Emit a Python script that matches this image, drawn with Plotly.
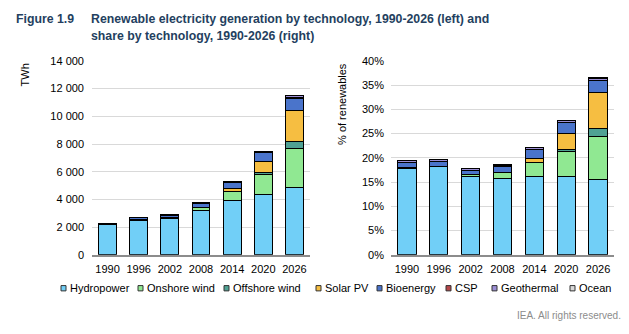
import plotly.graph_objects as go

years = ["1990", "1996", "2002", "2008", "2014", "2020", "2026"]
techs = ["Hydropower", "Onshore wind", "Offshore wind", "Solar PV", "Bioenergy", "CSP", "Geothermal", "Ocean"]
colors = ["#71CFF7", "#90E892", "#4FA193", "#F6BE41", "#4A74CB", "#B5474A", "#9C8FD6", "#D9D9D9"]

# Generation (TWh)
hydro_twh = [2150, 2500, 2620, 3180, 3890, 4330, 4880]
onshore_twh = [4, 10, 50, 220, 670, 1480, 2800]
offshore_twh = [0, 0, 1, 10, 25, 100, 470]
solar_twh = [0, 0, 2, 12, 190, 800, 2270]
bio_twh = [100, 150, 170, 280, 430, 640, 900]
csp_twh = [1, 1, 1, 2, 10, 15, 40]
geo_twh = [36, 42, 52, 65, 75, 90, 140]
ocean_twh = [1, 1, 1, 1, 1, 1, 2]

# Share (%)
hydro_pct = [17.9, 18.2, 16.2, 15.7, 16.1, 16.1, 15.5]
onshore_pct = [0.03, 0.07, 0.3, 1.2, 2.9, 5.3, 8.9]
offshore_pct = [0, 0, 0.01, 0.05, 0.1, 0.4, 1.6]
solar_pct = [0, 0, 0.01, 0.06, 0.8, 3.2, 7.4]
bio_pct = [1.1, 1.0, 0.9, 1.3, 1.8, 2.3, 2.5]
csp_pct = [0.01, 0.01, 0.01, 0.01, 0.04, 0.06, 0.13]
geo_pct = [0.35, 0.3, 0.3, 0.3, 0.35, 0.35, 0.45]
ocean_pct = [0.005, 0.005, 0.005, 0.005, 0.005, 0.005, 0.01]

left_ticks = [0, 2000, 4000, 6000, 8000, 10000, 12000, 14000]
left_ticktext = ["0", "2 000", "4 000", "6 000", "8 000", "10 000", "12 000", "14 000"]
right_ticks = [0, 5, 10, 15, 20, 25, 30, 35, 40]
right_ticktext = ["0%", "5%", "10%", "15%", "20%", "25%", "30%", "35%", "40%"]

twh_series = [hydro_twh, onshore_twh, offshore_twh, solar_twh, bio_twh, csp_twh, geo_twh, ocean_twh]
pct_series = [hydro_pct, onshore_pct, offshore_pct, solar_pct, bio_pct, csp_pct, geo_pct, ocean_pct]

FONT = "Liberation Sans, Arial, sans-serif"
fig = go.Figure()
for name, col, vals in zip(techs, colors, twh_series):
    fig.add_trace(go.Bar(x=years, y=vals, name=name, marker=dict(color=col, line=dict(color="#000", width=1)),
                         xaxis="x", yaxis="y", showlegend=False))
for name, col, vals in zip(techs, colors, pct_series):
    fig.add_trace(go.Bar(x=years, y=vals, name=name, marker=dict(color=col, line=dict(color="#000", width=1)),
                         xaxis="x2", yaxis="y2", showlegend=False))

W, H = 629, 334
def px(x): return x / W
def py(y): return 1 - y / H

axis_common = dict(tickfont=dict(family=FONT, size=11, color="#000"), ticks="", fixedrange=True)
fig.update_layout(
    width=W, height=H, barmode="stack", bargap=0.43,
    margin=dict(l=0, r=0, t=0, b=0),
    paper_bgcolor="white", plot_bgcolor="white",
    font=dict(family=FONT, size=11, color="#000"),
    xaxis=dict(domain=[px(92), px(310)], anchor="y", showline=True, linecolor="#8c8c8c", linewidth=2,
               showgrid=False, ticklabelstandoff=3, **axis_common),
    yaxis=dict(domain=[py(258), py(57)], anchor="x", range=[0, 14000], tickvals=left_ticks,
               ticktext=left_ticktext, showgrid=True, gridcolor="#D9D9D9", gridwidth=1, zeroline=False,
               showline=False, ticklabelstandoff=7, **axis_common),
    xaxis2=dict(domain=[px(391), px(614)], anchor="y2", showline=True, linecolor="#8c8c8c", linewidth=2,
                showgrid=False, ticklabelstandoff=3, **axis_common),
    yaxis2=dict(domain=[py(258), py(57)], anchor="x2", range=[0, 40], tickvals=right_ticks,
                ticktext=right_ticktext, showgrid=True, gridcolor="#D9D9D9", gridwidth=1, zeroline=False,
                showline=False, ticklabelstandoff=6, **axis_common),
)

ann = []
TITLE_COL = "#243F60"
TSIZE = 12.3
ann.append(dict(text="<b>Figure 1.9</b>", x=px(14), y=py(13), xanchor="left", yanchor="middle",
                font=dict(family=FONT, size=TSIZE, color=TITLE_COL)))
ann.append(dict(text="<b>Renewable electricity generation by technology, 1990-2026 (left) and</b>", x=px(89), y=py(13),
                xanchor="left", yanchor="middle", font=dict(family=FONT, size=TSIZE, color=TITLE_COL)))
ann.append(dict(text="<b>share by technology, 1990-2026 (right)</b>", x=px(89), y=py(31),
                xanchor="left", yanchor="middle", font=dict(family=FONT, size=TSIZE, color=TITLE_COL)))
ann.append(dict(text="TWh", x=px(25), y=py(58), xanchor="center", yanchor="top", textangle=-90,
                font=dict(family=FONT, size=11, color="#000")))
ann.append(dict(text="% of renewables", x=px(342), y=py(57), xanchor="center", yanchor="top", textangle=-90,
                font=dict(family=FONT, size=11, color="#000")))
ann.append(dict(text="IEA. All rights reserved.", x=px(623), y=py(321), xanchor="right", yanchor="middle",
                font=dict(family=FONT, size=10, color="#8C8C8C")))

legend_x = [61, 138, 224, 316, 377, 446, 492, 570]
shapes = []
for lx, name, col in zip(legend_x, techs, colors):
    shapes.append(dict(type="rect", xref="paper", yref="paper", x0=px(lx), x1=px(lx + 5),
                       y0=py(295.5), y1=py(290), fillcolor=col, line=dict(color="#333", width=1)))
    ann.append(dict(text=name, x=px(lx + 6.5), y=py(292.5), xanchor="left", yanchor="middle",
                    font=dict(family=FONT, size=11, color="#000")))

for a in ann:
    a.setdefault("xref", "paper"); a.setdefault("yref", "paper"); a["showarrow"] = False
fig.update_layout(annotations=ann, shapes=shapes)
fig.write_html("out.html")
